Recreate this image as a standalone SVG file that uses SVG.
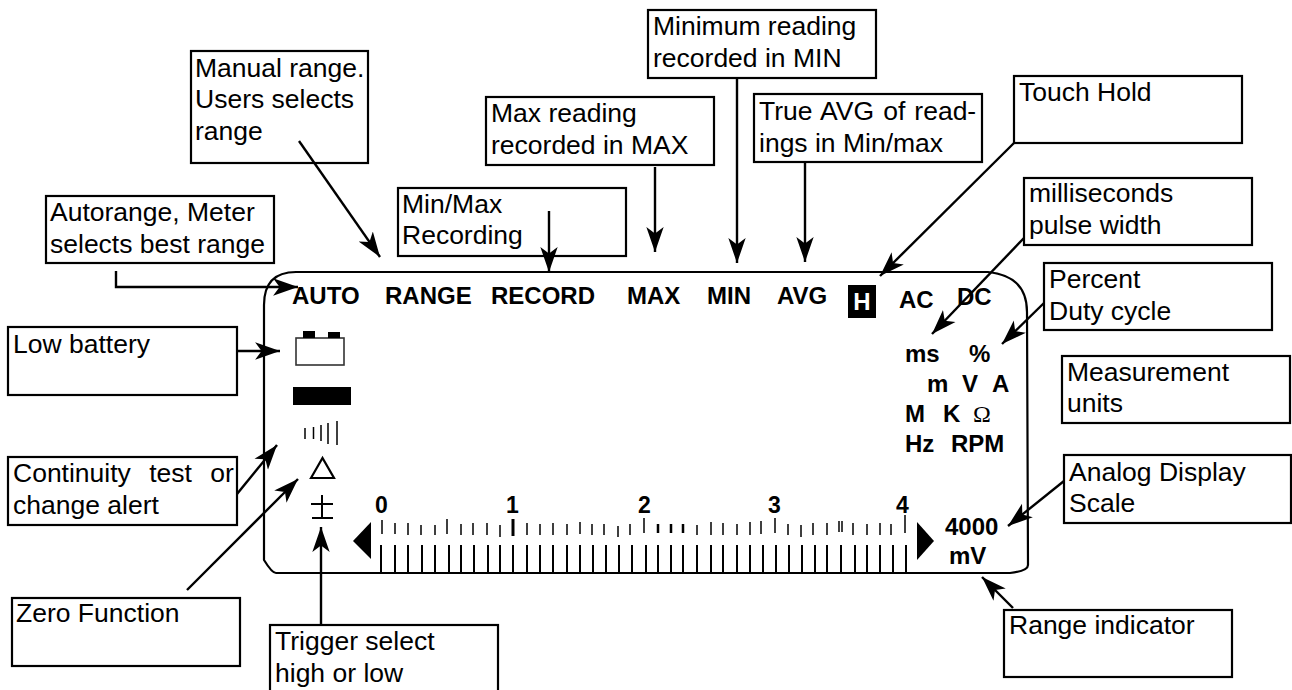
<svg xmlns="http://www.w3.org/2000/svg" width="1292" height="690" viewBox="0 0 1292 690">
<style>
text{font-family:"Liberation Sans",Arial,sans-serif;fill:#000}
.l{font-size:26.5px}
.b{font-size:24px;font-weight:700}
.d{font-size:23px;font-weight:700}
.box{fill:#fff;stroke:#000;stroke-width:2.2}
.c{fill:none;stroke:#000;stroke-width:2.400;marker-end:url(#a)}
.t{fill:none;stroke:#000;stroke-width:1.500}
</style>
<defs><marker id="a" markerUnits="userSpaceOnUse" markerWidth="26" markerHeight="20" refX="23" refY="8" orient="auto" viewBox="0 0 24 16"><path d="M0 0L23 8L0 16L6 8Z"/></marker></defs>
<g id="display">
<path d="M296 272H988Q1027 276 1027 312L1028 565Q1028 571 1010 573H276Q272 573 264 560V305Q264 272 296 272Z" fill="none" stroke="#000" stroke-width="2.200"/>
<text class="b" x="292" y="304">AUTO</text><text class="b" x="385" y="304">RANGE</text><text class="b" x="491" y="304">RECORD</text><text class="b" x="627" y="304">MAX</text><text class="b" x="707" y="304">MIN</text><text class="b" x="777" y="304">AVG</text>
<rect x="848" y="285" width="28" height="33"/><text x="862" y="310" text-anchor="middle" font-size="24" font-weight="700" style="fill:#fff">H</text>
<text class="b" x="899" y="308">AC</text><text class="b" x="957" y="305">DC</text>
<text class="b" x="905" y="362">ms</text><text class="b" x="969" y="362">%</text>
<text class="b" x="927" y="392">m</text><text class="b" x="962" y="392">V</text><text class="b" x="992" y="392">A</text>
<text class="b" x="905" y="422">M</text><text class="b" x="943" y="422">K</text><text x="973" y="422" style="font-family:'Liberation Serif',serif;font-size:24px">Ω</text>
<text class="b" x="905" y="452">Hz</text><text class="b" x="951" y="452">RPM</text>
<rect x="296" y="338" width="48" height="27" fill="#fff" stroke="#333" stroke-width="1.600"/><rect x="303" y="331" width="12" height="7"/><rect x="328" y="332" width="12" height="6"/>
<rect x="293" y="387" width="58" height="18"/>
<path class="t" d="M305 428V439M313.500 427V439M321 425V441M328 423V444M337 421V445"/>
<path d="M311 478L322.500 458L334 478Z" fill="none" stroke="#000" stroke-width="2.200"/>
<path d="M322 495V518M311 504H333M312 518H333" fill="none" stroke="#000" stroke-width="2"/>
<text class="d" x="375" y="513">0</text><text class="d" x="506" y="513">1</text><text class="d" x="638" y="513">2</text><text class="d" x="768" y="513">3</text><text class="d" x="896" y="513">4</text>
<path d="M353 541L371 522V559Z"/><path d="M917 522L934 541L917 560Z"/>
<path class="t" d="M382 520V534M395 523V534M408 523V535M421 525V535M435 525V535M447 519V534M461 524V535M473 523V535M487 523V535M500 525V537M527 523V535M540 524V535M553 523V535M567 524V535M580 522V534M592 524V535M604 524V535M618 526V537M630 524V535M644 518V533M697 525V535M711 522V535M723 523V535M737 524V535M750 522V535M761 521V534M775 518V533M788 524V535M801 525V537M813 523V535M827 523V535M839 521V532M842 521V532M853 523V535M867 524V535M880 523V535M891 524V535M905 515V533"/>
<path d="M513 519V536" stroke="#000" stroke-width="3"/><path d="M658 524V533M671 524V533M683 524V533" stroke="#000" stroke-width="2.500"/>
<path d="M381 545V572M395 545V572M408 545V572M422 545V572M435 545V572M449 545V572M461 545V572M474 545V572M488 545V572M500 545V572M513 545V572M527 545V572M540 545V572M553 545V572M567 545V572M580 545V572M593 545V572M606 545V572M619 545V572M632 545V572M646 545V572M658 545V572M671 545V572M683 545V572M697 545V572M711 545V572M723 545V572M737 545V572M750 545V572M763 545V572M776 545V572M789 545V572M802 545V572M815 545V572M827 545V572M841 545V572M855 545V572M867 545V572M880 545V572M893 545V572M906 545V572" stroke="#000" stroke-width="2"/>
<text class="b" x="945" y="535">4000</text><text class="b" x="949" y="564">mV</text>
</g>
<g id="n-manual"><rect class="box" x="191" y="51" width="177" height="112"/><text class="l" x="195" y="77">Manual range.</text><text class="l" x="195" y="108">Users selects</text><text class="l" x="195" y="140">range</text></g>
<g id="n-minimum"><rect class="box" x="648" y="10" width="228" height="68"/><text class="l" x="653" y="35">Minimum reading</text><text class="l" x="653" y="67">recorded in MIN</text></g>
<g id="n-max"><rect class="box" x="486" y="97" width="228" height="68"/><text class="l" x="491" y="122">Max reading</text><text class="l" x="491" y="154">recorded in MAX</text></g>
<g id="n-avg"><rect class="box" x="754" y="94" width="228" height="68"/><text class="l" x="759" y="120" word-spacing="1.7">True AVG of read-</text><text class="l" x="759" y="152">ings in Min/max</text></g>
<g id="n-touch"><rect class="box" x="1014" y="76" width="228" height="67"/><text class="l" x="1019" y="101">Touch Hold</text></g>
<g id="n-minmax"><rect class="box" x="398" y="188" width="228" height="68"/><text class="l" x="402" y="213">Min/Max</text><text class="l" x="402" y="244">Recording</text></g>
<g id="n-auto"><rect class="box" x="46" y="196" width="228" height="67"/><text class="l" x="50" y="221">Autorange, Meter</text><text class="l" x="50" y="253">selects best range</text></g>
<g id="n-ms"><rect class="box" x="1024" y="178" width="228" height="67"/><text class="l" x="1029" y="202">milliseconds</text><text class="l" x="1029" y="234">pulse width</text></g>
<g id="n-percent"><rect class="box" x="1044" y="263" width="228" height="67"/><text class="l" x="1049" y="288">Percent</text><text class="l" x="1049" y="320">Duty cycle</text></g>
<g id="n-units"><rect class="box" x="1062" y="356" width="228" height="67"/><text class="l" x="1067" y="381">Measurement</text><text class="l" x="1067" y="412">units</text></g>
<g id="n-scale"><rect class="box" x="1064" y="455" width="227" height="68"/><text class="l" x="1069" y="481">Analog Display</text><text class="l" x="1069" y="512">Scale</text></g>
<g id="n-range"><rect class="box" x="1004" y="610" width="228" height="67"/><text class="l" x="1009" y="634">Range indicator</text></g>
<g id="n-battery"><rect class="box" x="8" y="327" width="229" height="68"/><text class="l" x="13" y="353">Low battery</text></g>
<g id="n-cont"><rect class="box" x="8" y="457" width="229" height="68"/><text class="l" x="13" y="482" word-spacing="11">Continuity test or</text><text class="l" x="13" y="514">change alert</text></g>
<g id="n-zero"><rect class="box" x="12" y="598" width="228" height="68"/><text class="l" x="16" y="622">Zero Function</text></g>
<g id="n-trigger"><rect class="box" x="270" y="625" width="228" height="70"/><text class="l" x="275" y="650">Trigger select</text><text class="l" x="275" y="682">high or low</text></g>
<g id="connectors">
<path class="c" d="M116 271V287H298"/>
<path class="c" d="M299 141L380 257"/>
<path class="c" d="M549 211V272"/>
<path class="c" d="M655 167V252"/>
<path class="c" d="M737 78V263"/>
<path class="c" d="M805 162V262"/>
<path class="c" d="M1014 143L880 276"/>
<path class="c" d="M1024 238L932 334"/>
<path class="c" d="M1044 303L1002 344"/>
<path class="c" d="M1064 481L1008 526"/>
<path class="c" d="M1013 608L982 577"/>
<path class="c" d="M237 351H280"/>
<path class="c" d="M237 494L277 445"/>
<path class="c" d="M187 590L298 479"/>
<path class="c" d="M321 624V527"/>
</g>
</svg>
